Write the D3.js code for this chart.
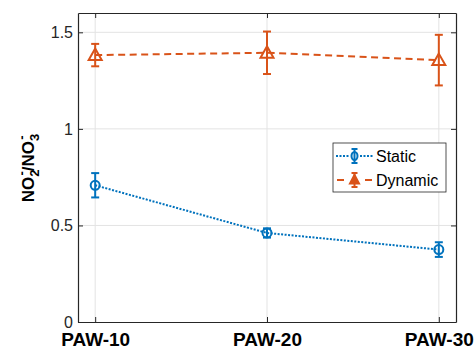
<!DOCTYPE html>
<html>
<head>
<meta charset="utf-8">
<script src="https://cdn.jsdelivr.net/npm/d3@7"></script>
<style>
  body { margin: 0; background: #fff; }
  svg { font-family: "Liberation Sans", Arial, sans-serif; }
</style>
</head>
<body>
<div id="chart"></div>
<script>
// data
const categories = ["PAW-10", "PAW-20", "PAW-30"]
const staticMean = [0.708, 0.461, 0.375]
const staticErr = [0.063, 0.024, 0.038]
const dynamicMean = [1.382, 1.394, 1.356]
const dynamicErr = [0.058, 0.110, 0.131]
const yTicks = [0, 0.5, 1, 1.5]
const yTickLabels = ["0", "0.5", "1", "1.5"]

const W = 476, H = 350
const margin = { top: 13, right: 20, bottom: 28, left: 78 }
const width = W - margin.left - margin.right
const height = H - margin.top - margin.bottom

const svg = d3.select("#chart").append("svg")
  .attr("width", W).attr("height", H)
const g = svg.append("g")
  .attr("transform", "translate(" + margin.left + "," + margin.top + ")")

const x = d3.scaleLinear().domain([0.9, 3.1]).range([0, width])
const y = d3.scaleLinear().domain([0, 1.6]).range([height, 0])

const blue = "#0072BD", orange = "#D95319", axisCol = "#262626"

// grid
g.append("g").selectAll("line").data(categories).enter().append("line")
  .attr("x1", (d, i) => x(i + 1)).attr("x2", (d, i) => x(i + 1))
  .attr("y1", 0).attr("y2", height)
  .attr("stroke", "#e3e3e3").attr("stroke-width", 1)
g.append("g").selectAll("line").data(yTicks.slice(1)).enter().append("line")
  .attr("x1", 0).attr("x2", width)
  .attr("y1", d => y(d)).attr("y2", d => y(d))
  .attr("stroke", "#e3e3e3").attr("stroke-width", 1)

// axes (matlab style, ticks inside, box on)
const xAxis = g.append("g").attr("transform", "translate(0," + height + ")")
  .call(d3.axisBottom(x).tickValues([1, 2, 3]).tickSize(-5).tickSizeOuter(0).tickPadding(11)
    .tickFormat((d, i) => categories[i]))
xAxis.selectAll("text").attr("font-size", 19).attr("font-weight", "bold")
  .attr("fill", "#000").attr("font-family", "Liberation Sans, Arial, sans-serif")
const yAxis = g.append("g")
  .call(d3.axisLeft(y).tickValues(yTicks).tickSize(-5).tickSizeOuter(0).tickPadding(5)
    .tickFormat((d, i) => yTickLabels[i]))
yAxis.selectAll("text").attr("font-size", 16).attr("fill", axisCol)
  .attr("font-family", "Liberation Sans, Arial, sans-serif")
g.append("g").attr("transform", "translate(" + width + ",0)")
  .call(d3.axisRight(y).tickValues(yTicks).tickSize(-5).tickSizeOuter(0).tickFormat(""))
g.append("g")
  .call(d3.axisTop(x).tickValues([1, 2, 3]).tickSize(-5).tickSizeOuter(0).tickFormat(""))
g.selectAll(".domain").attr("stroke", axisCol).attr("stroke-width", 1.2)
g.selectAll(".tick line").attr("stroke", axisCol)

// series
function drawSeries(mean, err, color, dash, marker) {
  const pts = mean.map((v, i) => ({ x: i + 1, v: v, e: err[i] }))
  g.append("path").datum(pts)
    .attr("fill", "none").attr("stroke", color).attr("stroke-width", 2)
    .attr("stroke-dasharray", dash)
    .attr("d", d3.line().x(d => x(d.x)).y(d => y(d.v)))
  const eb = g.append("g").selectAll("g").data(pts).enter().append("g")
    .attr("stroke", color).attr("stroke-width", 2).attr("fill", "none")
  eb.append("line").attr("x1", d => x(d.x)).attr("x2", d => x(d.x))
    .attr("y1", d => y(d.v - d.e)).attr("y2", d => y(d.v + d.e))
  eb.append("line").attr("x1", d => x(d.x) - 4).attr("x2", d => x(d.x) + 4)
    .attr("y1", d => y(d.v - d.e)).attr("y2", d => y(d.v - d.e))
  eb.append("line").attr("x1", d => x(d.x) - 4).attr("x2", d => x(d.x) + 4)
    .attr("y1", d => y(d.v + d.e)).attr("y2", d => y(d.v + d.e))
  if (marker == "circle") {
    eb.append("circle").attr("cx", d => x(d.x)).attr("cy", d => y(d.v)).attr("r", 4.5)
  } else {
    eb.append("path")
      .attr("transform", d => "translate(" + x(d.x) + "," + y(d.v) + ")")
      .attr("d", "M0,-6.5L6.5,5L-6.5,5Z")
  }
}
drawSeries(staticMean, staticErr, blue, "2,1.5", "circle")
drawSeries(dynamicMean, dynamicErr, orange, "7,4.5", "triangle")

// legend
const lg = svg.append("g").attr("transform", "translate(333,143)")
lg.append("rect").attr("width", 113).attr("height", 49)
  .attr("fill", "#fff").attr("stroke", axisCol).attr("stroke-width", 0.8)
const legItems = [
  { name: "Static", color: blue, dash: "2,1.5", marker: "circle" },
  { name: "Dynamic", color: orange, dash: "7,4.5", marker: "triangle" }
]
legItems.forEach((it, i) => {
  const yy = 13 + i * 24
  const row = lg.append("g").attr("transform", "translate(0," + yy + ")")
    .attr("stroke", it.color).attr("stroke-width", 2)
  if (it.marker == "circle") {
    row.append("line").attr("x1", 3).attr("x2", 16).attr("y1", 0).attr("y2", 0)
      .attr("stroke-dasharray", it.dash)
    row.append("line").attr("x1", 27).attr("x2", 41).attr("y1", 0).attr("y2", 0)
      .attr("stroke-dasharray", it.dash)
  } else {
    row.append("line").attr("x1", 4).attr("x2", 11).attr("y1", 0).attr("y2", 0)
    row.append("line").attr("x1", 32).attr("x2", 39).attr("y1", 0).attr("y2", 0)
  }
  row.append("line").attr("x1", 21.5).attr("x2", 21.5).attr("y1", -7).attr("y2", 7)
  row.append("line").attr("x1", 18.5).attr("x2", 24.5).attr("y1", -7).attr("y2", -7)
  row.append("line").attr("x1", 18.5).attr("x2", 24.5).attr("y1", 7).attr("y2", 7)
  if (it.marker == "circle") {
    row.append("ellipse").attr("cx", 21.5).attr("cy", 0).attr("rx", 3).attr("ry", 4).attr("fill", "none")
  } else {
    row.append("path").attr("transform", "translate(21.5,0)")
      .attr("d", "M0,-5L4.5,3.5L-4.5,3.5Z").attr("fill", it.color)
  }
  lg.append("text").attr("x", 43).attr("y", yy + 5.5).attr("font-size", 16)
    .attr("fill", "#000").text(it.name)
})

// y label
const yl = svg.append("text")
  .attr("transform", "translate(34,168) rotate(-90)")
  .attr("text-anchor", "middle")
  .attr("font-size", 17).attr("font-weight", "bold").attr("fill", "#000")
yl.append("tspan").text("NO")
yl.append("tspan").attr("font-size", 13).attr("dy", 5).text("2")
yl.append("tspan").attr("font-size", 13).attr("dx", -6).attr("dy", -13).text("-")
yl.append("tspan").attr("dy", 8).text("/NO")
yl.append("tspan").attr("font-size", 13).attr("dy", 5).text("3")
yl.append("tspan").attr("font-size", 13).attr("dx", -6).attr("dy", -13).text("-")
</script>
</body>
</html>
